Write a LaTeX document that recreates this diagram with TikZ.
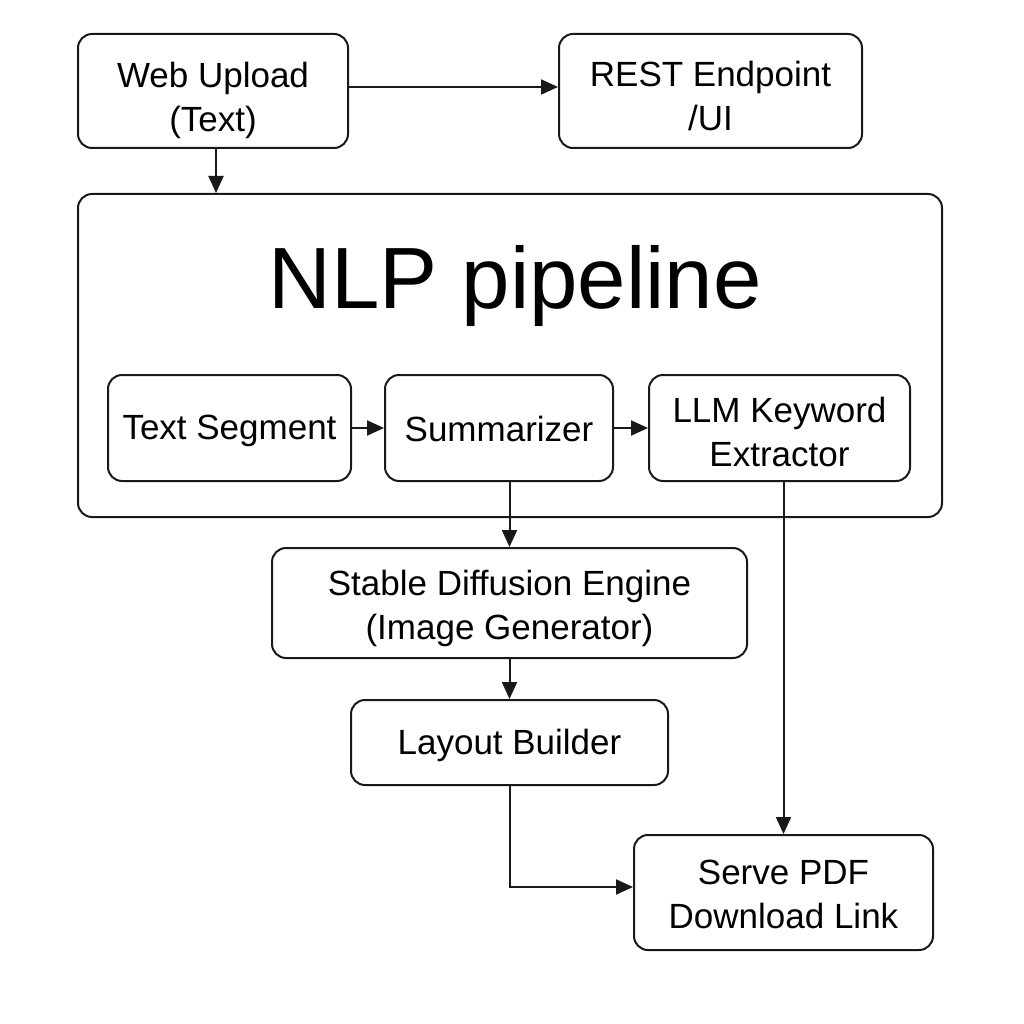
\documentclass[tikz,border=0pt]{standalone}
\usepackage{fontspec}
\setmainfont{Liberation Sans}
\usetikzlibrary{arrows.meta,positioning}
\begin{document}
\begin{tikzpicture}[x=1pt,y=-1pt,
  box/.style={draw=black!90,line width=2pt,rounded corners=14pt,inner sep=0pt},
  txt/.style={align=center,font=\fontsize{35}{44}\selectfont,inner sep=0pt},
  conn/.style={draw=black!90,line width=2pt,-{Triangle[length=17pt,width=15pt]}}]
\useasboundingbox[fill=white] (0,0) rectangle (1024,1024);
\node[box,minimum width=270pt,minimum height=114pt] (web) at (213,91) {};
\node[txt] (webt) at ([yshift=-9pt]web.center) {Web Upload\\(Text)};
\node[box,minimum width=303pt,minimum height=114pt] (rest) at (710.5,91) {};
\node[txt] (restt) at ([yshift=-4.5pt]rest.center) {REST Endpoint\\/UI};
\node[box,minimum width=864pt,minimum height=323pt] (nlp) at (510,355.5) {};
\node[font=\fontsize{87}{90}\selectfont,inner sep=0pt] (title) at (515,286) {NLP pipeline};
\node[box,minimum width=243pt,minimum height=106pt] (seg) at (229.5,428) {};
\node[txt] (segt) at ([yshift=-3pt]seg.center) {Text Segment};
\node[box,minimum width=228pt,minimum height=106pt] (sum) at (499,428) {};
\node[txt] (sumt) at ([yshift=-1pt]sum.center) {Summarizer};
\node[box,minimum width=261pt,minimum height=106pt] (llm) at (779.5,428) {};
\node[txt] (llmt) at ([yshift=-4pt]llm.center) {LLM Keyword\\Extractor};
\node[box,minimum width=475pt,minimum height=110pt] (sd) at (509.5,603) {};
\node[txt] (sdt) at ([yshift=-5pt]sd.center) {Stable Diffusion Engine\\(Image Generator)};
\node[box,minimum width=317pt,minimum height=85pt] (lay) at (509.5,742.5) {};
\node[txt] (layt) at ([yshift=-3pt]lay.center) {Layout Builder};
\node[box,minimum width=299pt,minimum height=115pt] (pdf) at (783.5,892.5) {};
\node[txt] (pdft) at ([yshift=-2pt]pdf.center) {Serve PDF\\Download Link};
\draw[conn] (web.east |- 0,87) -- (rest.west |- 0,87);
\draw[conn] ([xshift=3pt]web.south) -- ([xshift=3pt]web.south |- nlp.north);
\draw[conn] (seg.east) -- (sum.west);
\draw[conn] (sum.east) -- (llm.west);
\draw[conn] (sum.south -| sd.north) -- (sd.north);
\draw[conn] (sd.south) -- (lay.north);
\draw[conn] (llm.south -| pdf.north) -- (pdf.north);
\draw[conn] (lay.south) |- ([yshift=5.5pt]pdf.west);
\end{tikzpicture}
\end{document}
